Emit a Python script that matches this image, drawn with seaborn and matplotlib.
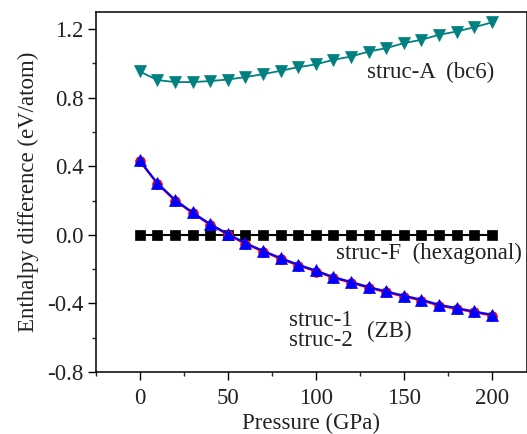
import matplotlib
matplotlib.use("Agg")
import matplotlib.pyplot as plt
import seaborn as sns
from matplotlib.ticker import MultipleLocator, FormatStrFormatter

# Pressure grid (GPa)
pressure = [0, 10, 20, 30, 40, 50, 60, 70, 80, 90, 100,
            110, 120, 130, 140, 150, 160, 170, 180, 190, 200]

# enthalpy differences (eV/atom)
struc_a = [0.953, 0.903, 0.891, 0.891, 0.897, 0.906, 0.920, 0.937, 0.957, 0.978, 0.994,
           1.021, 1.040, 1.069, 1.089, 1.118, 1.138, 1.167, 1.186, 1.211, 1.239]
struc_f = [0.0] * 21
struc_2 = [0.434, 0.302, 0.205, 0.131, 0.063, 0.006, -0.048, -0.093, -0.135, -0.174, -0.208,
           -0.246, -0.275, -0.304, -0.330, -0.355, -0.378, -0.408, -0.427, -0.447, -0.466]
struc_1 = [0.428, 0.296, 0.199, 0.125, 0.057, 0.000, -0.054, -0.099, -0.141, -0.180, -0.214,
           -0.252, -0.281, -0.310, -0.336, -0.361, -0.384, -0.414, -0.433, -0.453, -0.472]

sns.set_style("ticks")
plt.rcParams["font.family"] = ["Liberation Serif", "DejaVu Serif"]
FS = 16.5
TXT = "#222222"

fig = plt.figure(figsize=(5.27, 4.34), dpi=100)
ax = fig.add_axes([0.1816, 0.1429, 0.8184, 0.8295])

sns.lineplot(x=pressure, y=struc_f, ax=ax, color="black", linewidth=1.5,
             marker="s", markersize=6.5, markeredgecolor="black", markeredgewidth=0.5)
sns.lineplot(x=pressure, y=struc_1, ax=ax, color="red", linewidth=1.2,
             marker="o", markersize=7, markeredgecolor="red", markeredgewidth=0.5)
sns.lineplot(x=pressure, y=struc_2, ax=ax, color="blue", linewidth=1.5,
             marker="^", markersize=8, markeredgecolor="blue", markeredgewidth=0.5)
sns.lineplot(x=pressure, y=struc_a, ax=ax, color="#008080", linewidth=1.3,
             marker="v", markersize=8, markeredgecolor="#008080", markeredgewidth=0.5)

ax.set_xlim(-25, 220)
ax.set_ylim(-0.8, 1.3)
ax.xaxis.set_major_locator(MultipleLocator(50))
ax.xaxis.set_minor_locator(MultipleLocator(25))
ax.yaxis.set_major_locator(MultipleLocator(0.4))
ax.yaxis.set_minor_locator(MultipleLocator(0.2))
ax.yaxis.set_major_formatter(FormatStrFormatter("%.1f"))
ax.tick_params(which="major", direction="out", length=5.5, width=1, labelsize=FS,
               colors="black", labelcolor=TXT, pad=3)
ax.tick_params(axis="x", which="major", pad=6)
ax.tick_params(which="minor", direction="out", length=3, width=1)
for s in ax.spines.values():
    s.set_linewidth(1.1)
    s.set_color("black")

ax.set_xlabel("Pressure (GPa)", fontsize=FS, labelpad=3, color=TXT)
ax.set_ylabel("Enthalpy difference (eV/atom)", fontsize=FS, labelpad=6, color=TXT)

ax.text(129.3, 0.95, "struc-A  (bc6)", fontsize=FS, color=TXT, va="center")
ax.text(111.5, -0.11, "struc-F  (hexagonal)", fontsize=FS, color=TXT, va="center")
ax.text(84.6, -0.50, "struc-1", fontsize=FS, color=TXT, va="center")
ax.text(84.6, -0.616, "struc-2", fontsize=FS, color=TXT, va="center")
ax.text(129.1, -0.566, "(ZB)", fontsize=FS, color=TXT, va="center")

fig.savefig("out.png", dpi=100)
